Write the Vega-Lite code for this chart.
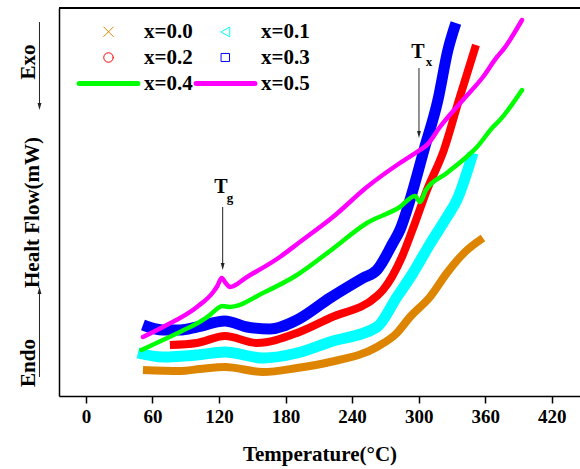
{
  "$schema": "https://vega.github.io/schema/vega-lite/v6.json",
  "width": 521,
  "height": 388,
  "autosize": {"type": "none"},
  "padding": {"left": 59, "top": 8, "right": 0, "bottom": 73},
  "background": "white",
  "config": {"view": {"stroke": null}, "font": "Liberation Serif"},
  "datasets": {
    "curves": [
      {"series": "x=0.0", "T": 51.4, "y": 26}, {"series": "x=0.0", "T": 84.8, "y": 25}, {"series": "x=0.0", "T": 102.8, "y": 27}, {"series": "x=0.0", "T": 125.3, "y": 29}, {"series": "x=0.0", "T": 159.6, "y": 24}, {"series": "x=0.0", "T": 190.3, "y": 28}, {"series": "x=0.0", "T": 220, "y": 34}, {"series": "x=0.0", "T": 262.4, "y": 49}, {"series": "x=0.0", "T": 280.4, "y": 63}, {"series": "x=0.0", "T": 292.2, "y": 79}, {"series": "x=0.0", "T": 310.2, "y": 99}, {"series": "x=0.0", "T": 325.5, "y": 123}, {"series": "x=0.0", "T": 341.8, "y": 144}, {"series": "x=0.0", "T": 358.0, "y": 158},
      {"series": "x=0.1", "T": 46.9, "y": 43}, {"series": "x=0.1", "T": 69.4, "y": 39}, {"series": "x=0.1", "T": 100, "y": 41}, {"series": "x=0.1", "T": 125.3, "y": 44}, {"series": "x=0.1", "T": 159.6, "y": 38}, {"series": "x=0.1", "T": 190.3, "y": 43}, {"series": "x=0.1", "T": 220, "y": 54}, {"series": "x=0.1", "T": 262.4, "y": 69}, {"series": "x=0.1", "T": 280.4, "y": 99}, {"series": "x=0.1", "T": 294.9, "y": 123}, {"series": "x=0.1", "T": 310.2, "y": 152}, {"series": "x=0.1", "T": 325.5, "y": 179}, {"series": "x=0.1", "T": 334.5, "y": 196}, {"series": "x=0.1", "T": 349.0, "y": 243},
      {"series": "x=0.2", "T": 75.7, "y": 51}, {"series": "x=0.2", "T": 100.1, "y": 53}, {"series": "x=0.2", "T": 125.3, "y": 60}, {"series": "x=0.2", "T": 154.2, "y": 53}, {"series": "x=0.2", "T": 190.3, "y": 63}, {"series": "x=0.2", "T": 220, "y": 78}, {"series": "x=0.2", "T": 262.4, "y": 100}, {"series": "x=0.2", "T": 267.8, "y": 106}, {"series": "x=0.2", "T": 284.9, "y": 139}, {"series": "x=0.2", "T": 296.7, "y": 173}, {"series": "x=0.2", "T": 307.5, "y": 206}, {"series": "x=0.2", "T": 322.8, "y": 246}, {"series": "x=0.2", "T": 336.3, "y": 296}, {"series": "x=0.2", "T": 351.7, "y": 351},
      {"series": "x=0.3", "T": 51.4, "y": 71}, {"series": "x=0.3", "T": 69.4, "y": 66}, {"series": "x=0.3", "T": 84.8, "y": 66}, {"series": "x=0.3", "T": 100.1, "y": 69}, {"series": "x=0.3", "T": 125.3, "y": 75}, {"series": "x=0.3", "T": 145.2, "y": 69}, {"series": "x=0.3", "T": 165.9, "y": 67}, {"series": "x=0.3", "T": 190.3, "y": 76}, {"series": "x=0.3", "T": 220, "y": 98}, {"series": "x=0.3", "T": 249.8, "y": 118}, {"series": "x=0.3", "T": 262.4, "y": 126}, {"series": "x=0.3", "T": 276.8, "y": 153}, {"series": "x=0.3", "T": 283.1, "y": 166}, {"series": "x=0.3", "T": 292.2, "y": 196}, {"series": "x=0.3", "T": 304.8, "y": 246}, {"series": "x=0.3", "T": 317.4, "y": 296}, {"series": "x=0.3", "T": 326.4, "y": 346}, {"series": "x=0.3", "T": 333.6, "y": 373},
      {"series": "x=0.4", "T": 50, "y": 46}, {"series": "x=0.4", "T": 69.4, "y": 56}, {"series": "x=0.4", "T": 84.8, "y": 64}, {"series": "x=0.4", "T": 111.8, "y": 81}, {"series": "x=0.4", "T": 118, "y": 87}, {"series": "x=0.4", "T": 122.6, "y": 90}, {"series": "x=0.4", "T": 129.9, "y": 89}, {"series": "x=0.4", "T": 159.6, "y": 103}, {"series": "x=0.4", "T": 190.3, "y": 121}, {"series": "x=0.4", "T": 220, "y": 145}, {"series": "x=0.4", "T": 253.4, "y": 173}, {"series": "x=0.4", "T": 283.1, "y": 189}, {"series": "x=0.4", "T": 296.7, "y": 200}, {"series": "x=0.4", "T": 301.2, "y": 194}, {"series": "x=0.4", "T": 306.6, "y": 206}, {"series": "x=0.4", "T": 325.5, "y": 223}, {"series": "x=0.4", "T": 339.9, "y": 236}, {"series": "x=0.4", "T": 352.6, "y": 249}, {"series": "x=0.4", "T": 367, "y": 269}, {"series": "x=0.4", "T": 373.3, "y": 276}, {"series": "x=0.4", "T": 393.2, "y": 306},
      {"series": "x=0.5", "T": 51.4, "y": 59}, {"series": "x=0.5", "T": 69.4, "y": 69}, {"series": "x=0.5", "T": 100.1, "y": 89}, {"series": "x=0.5", "T": 114.8, "y": 104}, {"series": "x=0.5", "T": 118.5, "y": 110}, {"series": "x=0.5", "T": 122.4, "y": 118}, {"series": "x=0.5", "T": 126, "y": 113}, {"series": "x=0.5", "T": 129.8, "y": 109}, {"series": "x=0.5", "T": 145.2, "y": 119}, {"series": "x=0.5", "T": 174.9, "y": 139}, {"series": "x=0.5", "T": 192.9, "y": 154}, {"series": "x=0.5", "T": 222.7, "y": 179}, {"series": "x=0.5", "T": 253.4, "y": 209}, {"series": "x=0.5", "T": 283.1, "y": 233}, {"series": "x=0.5", "T": 301.2, "y": 246}, {"series": "x=0.5", "T": 307.5, "y": 251}, {"series": "x=0.5", "T": 319.2, "y": 269}, {"series": "x=0.5", "T": 339.9, "y": 296}, {"series": "x=0.5", "T": 358, "y": 319}, {"series": "x=0.5", "T": 370.6, "y": 339}, {"series": "x=0.5", "T": 376, "y": 346}, {"series": "x=0.5", "T": 393.2, "y": 376}
    ],
    "notes": [
      {"kind": "side", "label": "Exo", "T": -51, "y": 334},
      {"kind": "side", "label": "Endo", "T": -51, "y": 33},
      {"kind": "big", "label": "T", "T": 121.7, "y": 203},
      {"kind": "sub", "label": "g", "T": 129.8, "y": 194},
      {"kind": "big", "label": "T", "T": 299.4, "y": 338},
      {"kind": "sub", "label": "x", "T": 309.3, "y": 330}
    ],
    "arrows": [
      {"dir": "down", "T": -41.9, "y1": 374, "y2": 289.5},
      {"dir": "up", "T": -41.9, "y1": 19, "y2": 105.5},
      {"dir": "down", "T": 123.3, "y1": 189, "y2": 129.5},
      {"dir": "down", "T": 300.3, "y1": 328, "y2": 261.5}
    ]
  },
  "layer": [
    {
      "data": {"name": "curves"},
      "encoding": {
        "x": {
          "field": "T", "type": "quantitative",
          "scale": {"domain": [-24.3, 445.5], "nice": false, "zero": false},
          "axis": {
            "title": "Temperature(°C)",
            "values": [0, 30, 60, 90, 120, 150, 180, 210, 240, 270, 300, 330, 360, 390, 420],
            "labelExpr": "datum.value % 60 === 0 ? datum.label : ''",
            "tickSize": {"condition": {"test": "datum.value % 60 === 0", "value": 7}, "value": 4},
            "tickColor": "black", "tickWidth": 1.5,
            "domainColor": "black", "domainWidth": 1.5,
            "grid": false, "labelFlush": false, "labelOverlap": false,
            "labelFont": "Liberation Serif", "labelFontSize": 19, "labelFontWeight": "bold", "labelColor": "black", "labelPadding": 4,
            "titleFont": "Liberation Serif", "titleFontSize": 21, "titleFontWeight": "bold", "titleColor": "black", "titlePadding": 17
          }
        },
        "y": {
          "field": "y", "type": "quantitative",
          "scale": {"domain": [0, 388], "nice": false, "zero": false},
          "axis": {
            "title": "Healt Flow(mW)", "ticks": false, "labels": false, "grid": false,
            "domainColor": "black", "domainWidth": 1.5,
            "titleFont": "Liberation Serif", "titleFontSize": 21, "titleFontWeight": "bold", "titleColor": "black", "titlePadding": 17, "titleY": 204
          }
        },
        "color": {
          "field": "series", "type": "nominal",
          "scale": {
            "domain": ["x=0.0", "x=0.1", "x=0.2", "x=0.3", "x=0.4", "x=0.5"],
            "range": ["#DD8500", "#00FFFF", "#FF0000", "#0000FF", "#00FF00", "#FF00FF"]
          },
          "legend": {
            "title": null, "orient": "none", "direction": "horizontal", "legendX": 39, "legendY": 13, "columns": 2, "padding": 0,
            "labelFont": "Liberation Serif", "labelFontSize": 21, "labelFontWeight": "bold", "labelColor": "black",
            "symbolSize": 90, "labelOffset": 25, "columnPadding": -7, "rowPadding": 4,
            "encode": {
              "symbols": {
                "update": {
                  "shape": {"signal": "datum.value === 'x=0.0' ? 'M-1,-1L1,1M-1,1L1,-1M-6.2,0M6.2,0' : datum.value === 'x=0.1' ? 'M-0.9,0L0.9,-1L0.9,1ZM-6.2,0M6.2,0' : datum.value === 'x=0.2' ? 'M1,0A1,1,0,1,1,-1,0A1,1,0,1,1,1,0ZM-6.2,0M6.2,0' : datum.value === 'x=0.3' ? 'M-0.85,-0.85H0.85V0.85H-0.85ZM-6.2,0M6.2,0' : 'M-6.2,0L6.2,0'"},
                  "strokeWidth": {"signal": "datum.value === 'x=0.4' || datum.value === 'x=0.5' ? 5 : 1"},
                  "fill": {"value": "transparent"},
                  "stroke": {"scale": "color", "field": "value"},
                  "strokeCap": {"value": "round"},
                  "opacity": {"value": 1}
                }
              }
            }
          }
        }
      },
      "layer": [
        {"transform": [{"filter": {"field": "series", "oneOf": ["x=0.0", "x=0.2"]}}], "mark": {"type": "line", "strokeWidth": 8, "strokeJoin": "round", "interpolate": "monotone"}},
        {"transform": [{"filter": {"field": "series", "oneOf": ["x=0.1", "x=0.3"]}}], "mark": {"type": "line", "strokeWidth": 11, "strokeJoin": "round", "interpolate": "monotone"}},
        {"transform": [{"filter": {"field": "series", "oneOf": ["x=0.4", "x=0.5"]}}], "mark": {"type": "line", "strokeWidth": 4.5, "strokeJoin": "round", "strokeCap": "round", "interpolate": "monotone"}}
      ]
    },
    {
      "data": {"values": [{}]},
      "mark": {"type": "rule", "color": "black", "strokeWidth": 2},
      "encoding": {"y": {"datum": 388, "type": "quantitative", "scale": {"domain": [0, 388], "nice": false, "zero": false}}}
    },
    {
      "data": {"name": "arrows"},
      "mark": {"type": "rule", "color": "#222", "strokeWidth": 1},
      "encoding": {
        "x": {"field": "T", "type": "quantitative", "scale": {"domain": [-24.3, 445.5], "nice": false, "zero": false}},
        "y": {"field": "y1", "type": "quantitative", "scale": {"domain": [0, 388], "nice": false, "zero": false}},
        "y2": {"field": "y2"}
      }
    },
    {
      "data": {"name": "arrows"},
      "mark": {"type": "point", "filled": true, "color": "#222", "size": 49, "opacity": 1},
      "encoding": {
        "x": {"field": "T", "type": "quantitative", "scale": {"domain": [-24.3, 445.5], "nice": false, "zero": false}},
        "y": {"field": "y2", "type": "quantitative", "scale": {"domain": [0, 388], "nice": false, "zero": false}},
        "shape": {"field": "dir", "type": "nominal", "scale": {"domain": ["down", "up"], "range": ["M0,1L-0.55,-1L0.55,-1Z", "M0,-1L-0.55,1L0.55,1Z"]}, "legend": null}
      }
    },
    {
      "data": {"name": "notes"},
      "transform": [{"filter": "datum.kind === 'side'"}],
      "mark": {"type": "text", "angle": 270, "align": "center", "baseline": "middle", "font": "Liberation Serif", "fontSize": 21, "fontWeight": "bold", "color": "black"},
      "encoding": {
        "x": {"field": "T", "type": "quantitative", "scale": {"domain": [-24.3, 445.5], "nice": false, "zero": false}},
        "y": {"field": "y", "type": "quantitative", "scale": {"domain": [0, 388], "nice": false, "zero": false}},
        "text": {"field": "label"}
      }
    },
    {
      "data": {"name": "notes"},
      "transform": [{"filter": "datum.kind === 'big'"}],
      "mark": {"type": "text", "align": "center", "baseline": "alphabetic", "font": "Liberation Serif", "fontSize": 20, "fontWeight": "bold", "color": "black"},
      "encoding": {
        "x": {"field": "T", "type": "quantitative", "scale": {"domain": [-24.3, 445.5], "nice": false, "zero": false}},
        "y": {"field": "y", "type": "quantitative", "scale": {"domain": [0, 388], "nice": false, "zero": false}},
        "text": {"field": "label"}
      }
    },
    {
      "data": {"name": "notes"},
      "transform": [{"filter": "datum.kind === 'sub'"}],
      "mark": {"type": "text", "align": "center", "baseline": "alphabetic", "font": "Liberation Serif", "fontSize": 13, "fontWeight": "bold", "color": "black"},
      "encoding": {
        "x": {"field": "T", "type": "quantitative", "scale": {"domain": [-24.3, 445.5], "nice": false, "zero": false}},
        "y": {"field": "y", "type": "quantitative", "scale": {"domain": [0, 388], "nice": false, "zero": false}},
        "text": {"field": "label"}
      }
    }
  ]
}
